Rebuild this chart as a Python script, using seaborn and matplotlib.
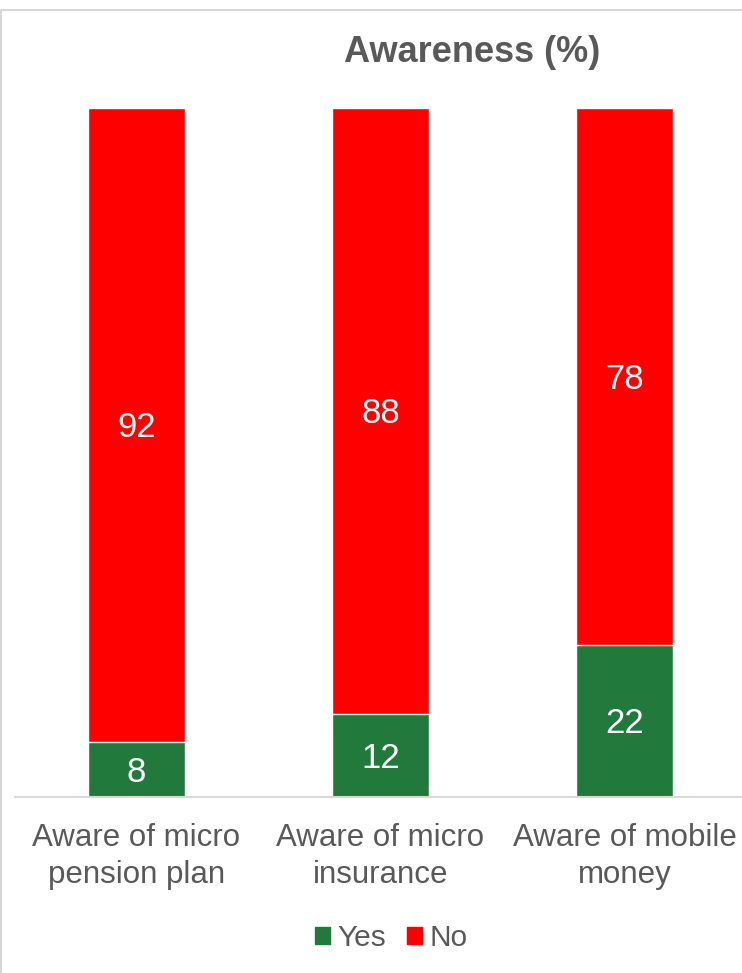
"""
Awareness chart: stacked Yes/No bars for three awareness questions.
"""

import matplotlib
matplotlib.use("Agg")
import matplotlib.pyplot as plt
from matplotlib.patches import Patch, Rectangle
import seaborn as sns
import pandas as pd

# --------------------------
# Data
# --------------------------
categories = [
    "Aware of micro\npension plan",
    "Aware of micro\ninsurance",
    "Aware of mobile\nmoney",
]
yes_values = [8, 12, 22]
no_values = [92, 88, 78]

GREEN = "#217A3C"
RED = "#FF0000"
GREY_TEXT = "#595959"
GREY_LINE = "#D9D9D9"

df = pd.DataFrame({"Category": categories, "Yes": yes_values, "No": no_values})
df["Total"] = df["Yes"] + df["No"]

# --------------------------
# Plot
# --------------------------
sns.set_style("white")
plt.rcParams["font.family"] = ["Liberation Sans", "DejaVu Sans"]

fig = plt.figure(figsize=(7.42, 9.73), dpi=100)
ax = fig.add_axes([14.5 / 742, 176 / 973, 732 / 742, 689 / 973])

# stacked look: full bar in red, Yes portion in green on top of it
sns.barplot(data=df, x="Category", y="Total", color=RED, width=0.4,
            saturation=1, ax=ax)
sns.barplot(data=df, x="Category", y="Yes", color=GREEN, width=0.4,
            saturation=1, ax=ax)

for i, row in df.iterrows():
    ax.text(i, row["Yes"] / 2 - 0.4, f"{row['Yes']}", ha="center",
            va="center", color="white", fontsize=25)
    ax.text(i, row["Yes"] + row["No"] / 2 - 0.4, f"{row['No']}", ha="center",
            va="center", color="white", fontsize=25)

ax.set_xlim(-0.5, 2.5)
ax.set_ylim(0, 100)
ax.set_xlabel("")
ax.set_ylabel("")
ax.set_yticks([])
ax.tick_params(axis="x", length=0, pad=19, labelsize=22.5, labelcolor=GREY_TEXT)
for lbl in ax.get_xticklabels():
    lbl.set_linespacing(1.27)
for side in ["top", "right", "left"]:
    ax.spines[side].set_visible(False)
ax.spines["bottom"].set_color(GREY_LINE)
ax.spines["bottom"].set_linewidth(1.5)

fig.text(472 / 742, 1 - 53 / 973, "Awareness (%)", ha="center", va="center",
         fontsize=26, fontweight="bold", color=GREY_TEXT)

handles = [Patch(color=GREEN, label="Yes"), Patch(color=RED, label="No")]
leg = fig.legend(handles=handles, loc="center", ncol=2,
                 bbox_to_anchor=(391 / 742, 1 - 938 / 973), frameon=False,
                 fontsize=21.5, handlelength=0.5, handleheight=0.5,
                 handletextpad=0.25, columnspacing=0.7)
for t in leg.get_texts():
    t.set_color(GREY_TEXT)

# chart-area border (cropped on the right in the reference)
fig.patches.append(Rectangle((0.5 / 742, -0.1), 1.2, 1 - 9.5 / 973 + 0.1,
                             transform=fig.transFigure, fill=False,
                             edgecolor="#D0D0D0", linewidth=1.2))

fig.savefig("out.png", dpi=100)
